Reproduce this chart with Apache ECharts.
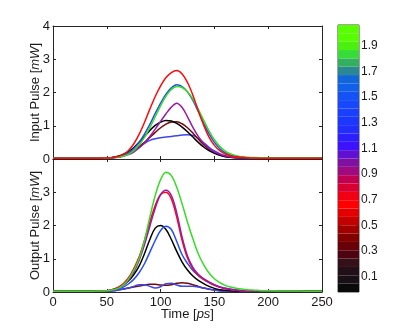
<!DOCTYPE html>
<html><head><meta charset="utf-8">
<script src="https://cdn.jsdelivr.net/npm/echarts@6/dist/echarts.min.js"></script>
<style>html,body{margin:0;padding:0;background:#fff}#c{width:415px;height:329px}</style>
</head><body><div id="c"></div>
<script>
// time axis (ps)
const timePs = [0,10,20,30,40,50,55,60,65,70,75,80,85,90,95,100,105,110,115,120,125,130,135,140,145,150,155,160,165,170,175,180,185,190,195,200,210,220,230,240,250];
const xTicks = [0,50,100,150,200,250];
const yTicks = [0,1,2,3,4];

// Input pulses (mW)
const inRed    = [0.02,0.02,0.02,0.02,0.02, 0.03,0.04,0.07,0.13,0.25,0.45,0.74,1.1,1.5,1.88,2.2,2.45,2.6,2.66,2.56,2.3,1.92,1.45,1.02,0.66,0.41,0.25,0.15,0.1,0.07,0.05,0.04,0.03,0.03,0.02,0.02, 0.02,0.02,0.02,0.02,0.02];
const inBlue   = [0.02,0.02,0.02,0.02,0.02, 0.03,0.04,0.06,0.1,0.18,0.31,0.5,0.75,1.04,1.37,1.68,1.95,2.14,2.23,2.18,2.02,1.76,1.43,1.08,0.76,0.5,0.31,0.19,0.12,0.08,0.06,0.04,0.03,0.03,0.02,0.02, 0.02,0.02,0.02,0.02,0.02];
const inGreen  = [0.025,0.025,0.025,0.025,0.025, 0.03,0.04,0.05,0.08,0.14,0.25,0.42,0.65,0.94,1.27,1.6,1.89,2.09,2.18,2.15,2.02,1.8,1.5,1.17,0.85,0.58,0.38,0.24,0.15,0.1,0.07,0.05,0.045,0.04,0.04,0.035, 0.03,0.03,0.03,0.03,0.03];
const inPurple = [0.02,0.02,0.02,0.02,0.02, 0.03,0.04,0.05,0.08,0.13,0.21,0.33,0.48,0.68,0.9,1.13,1.36,1.56,1.68,1.55,1.27,0.95,0.68,0.47,0.32,0.21,0.14,0.09,0.06,0.04,0.03,0.03,0.02,0.02,0.02,0.02, 0.02,0.02,0.02,0.02,0.02];
const inBlack  = [0.02,0.02,0.02,0.02,0.02, 0.03,0.05,0.08,0.14,0.22,0.34,0.5,0.68,0.86,1.01,1.11,1.16,1.14,1.07,0.96,0.82,0.66,0.5,0.36,0.25,0.17,0.11,0.07,0.05,0.04,0.03,0.03,0.02,0.02,0.02,0.02, 0.02,0.02,0.02,0.02,0.02];
const inDarkRed= [0.02,0.02,0.02,0.02,0.02, 0.03,0.04,0.06,0.1,0.16,0.25,0.37,0.5,0.65,0.8,0.94,1.05,1.11,1.12,1.06,0.94,0.78,0.6,0.43,0.29,0.19,0.12,0.08,0.05,0.04,0.03,0.03,0.02,0.02,0.02,0.02, 0.02,0.02,0.02,0.02,0.02];
const inBlueLow= [0.02,0.02,0.02,0.02,0.02, 0.03,0.04,0.06,0.1,0.16,0.25,0.36,0.47,0.56,0.61,0.64,0.66,0.68,0.7,0.72,0.73,0.71,0.62,0.49,0.35,0.24,0.16,0.1,0.07,0.05,0.04,0.03,0.03,0.02,0.02,0.02, 0.02,0.02,0.02,0.02,0.02];

// Output pulses (mW)
const outGreen  = [0.02,0.02,0.02,0.02,0.03, 0.04,0.06,0.1,0.2,0.38,0.65,1.0,1.55,2.25,2.9,3.38,3.6,3.5,3.15,2.65,2.1,1.6,1.15,0.82,0.57,0.4,0.28,0.2,0.15,0.11,0.09,0.07,0.06,0.05,0.04,0.04, 0.03,0.03,0.03,0.02,0.02];
const outPurple = [0.02,0.02,0.02,0.02,0.02, 0.03,0.05,0.1,0.19,0.35,0.6,0.95,1.42,1.98,2.52,2.93,3.06,2.9,2.38,1.65,1.08,0.74,0.53,0.4,0.3,0.22,0.15,0.11,0.08,0.06,0.04,0.03,0.03,0.02,0.02,0.02, 0.02,0.02,0.02,0.02,0.02];
const outRed    = [0.02,0.02,0.02,0.02,0.03, 0.04,0.07,0.13,0.24,0.42,0.7,1.05,1.55,2.1,2.6,2.93,3.0,2.8,2.25,1.55,1.02,0.7,0.5,0.38,0.28,0.2,0.14,0.1,0.07,0.05,0.04,0.03,0.03,0.02,0.02,0.02, 0.02,0.02,0.02,0.02,0.02];
const outBlack  = [0.02,0.02,0.02,0.02,0.03, 0.04,0.07,0.12,0.2,0.33,0.52,0.78,1.15,1.58,1.92,2.0,1.88,1.58,1.22,0.9,0.66,0.48,0.35,0.25,0.17,0.11,0.07,0.05,0.04,0.03,0.03,0.02,0.02,0.02,0.02,0.02, 0.02,0.02,0.02,0.02,0.02];
const outBlue   = [0.02,0.02,0.02,0.02,0.02, 0.03,0.05,0.08,0.14,0.24,0.38,0.58,0.85,1.2,1.55,1.85,1.98,1.88,1.52,1.12,0.86,0.65,0.5,0.38,0.29,0.21,0.15,0.11,0.08,0.06,0.04,0.03,0.03,0.02,0.02,0.02, 0.02,0.02,0.02,0.02,0.02];
const outDarkRed= [0.02,0.02,0.02,0.02,0.02, 0.03,0.04,0.06,0.09,0.12,0.15,0.18,0.21,0.23,0.23,0.21,0.2,0.22,0.26,0.28,0.26,0.22,0.17,0.12,0.08,0.06,0.04,0.03,0.02,0.02,0.02,0.02,0.02,0.02,0.02,0.02, 0.02,0.02,0.02,0.02,0.02];
const outBlueLow= [0.02,0.02,0.02,0.02,0.02, 0.02,0.03,0.05,0.08,0.12,0.17,0.22,0.22,0.17,0.12,0.16,0.25,0.26,0.21,0.17,0.17,0.17,0.15,0.12,0.09,0.06,0.04,0.03,0.02,0.02,0.02,0.02,0.02,0.02,0.02,0.02, 0.02,0.02,0.02,0.02,0.02];

// Colorbar
const cbTicks = [0.1,0.3,0.5,0.7,0.9,1.1,1.3,1.5,1.7,1.9];
const cbMin = -0.02, cbMax = 2.06;
const cbColors = ['#0a0a0a','#181014','#221018','#361018','#4e0410','#680008','#820000','#a00000','#c20000','#e20000',
  '#ff0000','#f00012','#d80030','#c00050','#a00a80','#8010a0','#6010d0','#3c12ff','#2c1eff','#222eff',
  '#1c38ff','#1a40ff','#1848fc','#1452f4','#1060ea','#1266dc','#2a8894','#32b060','#38dc38','#4cf010','#55ff00','#58ff00'];
const cbSegment = cbColors.map(() => 1);

const FONT = "'Liberation Sans', Arial, sans-serif";
const TXT = '#1a1a1a';
const LINE = '#262626';

function pairs(arr){ return timePs.map((t,i)=>[t,arr[i]]); }

const lineCommon = { type:'line', showSymbol:false, smooth:0.35, animation:false, lineStyle:{width:1.5} };

function mk(arr, color, xi, yi, z){
  return Object.assign({}, lineCommon, {data:pairs(arr), xAxisIndex:xi, yAxisIndex:yi, color:color, lineStyle:{width:1.5, color:color}, z:z});
}

const tickStyle = {show:true, inside:true, length:3, lineStyle:{color:LINE}};
function xAx(gi, pos, labels, extra){
  return Object.assign({type:'value', gridIndex:gi, position:pos, min:0, max:250, interval:50,
    axisLine:{show:true, onZero:false, lineStyle:{color:LINE, width:1}}, axisTick:tickStyle,
    axisLabel:{show:labels, color:TXT, fontSize:13, fontFamily:FONT, margin:4}, splitLine:{show:false}}, extra||{});
}
function yAx(gi, pos, labels, extra){
  return Object.assign({type:'value', gridIndex:gi, position:pos, min:0, max:4, interval:1,
    axisLine:{show:true, onZero:false, lineStyle:{color:LINE, width:1}}, axisTick:tickStyle,
    axisLabel:{show:labels, color:TXT, fontSize:13, fontFamily:FONT, margin:3}, splitLine:{show:false}}, extra||{});
}
const rich = {n:{fontSize:13, fontFamily:FONT, color:TXT}, i:{fontSize:13, fontFamily:FONT, color:TXT, fontStyle:'italic'}};

const series = [
  mk(inBlueLow, '#3a46f2', 0, 0, 2),
  mk(inDarkRed, '#780808', 0, 0, 2),
  mk(inBlack, '#000000', 0, 0, 2),
  mk(inPurple, '#9c18a8', 0, 0, 2),
  mk(inBlue, '#2250f5', 0, 0, 2),
  mk(inGreen, '#33dd22', 0, 0, 2),
  mk(inRed, '#ff0a0a', 0, 0, 2),
  mk(outDarkRed, '#780808', 2, 2, 2),
  mk(outBlueLow, '#3a46f2', 2, 2, 2),
  mk(outBlack, '#000000', 2, 2, 2),
  mk(outBlue, '#2250f5', 2, 2, 2),
  mk(outRed, '#ff0a0a', 2, 2, 2),
  mk(outPurple, '#9c18a8', 2, 2, 2),
  mk(outGreen, '#33dd22', 2, 2, 2)
];
cbColors.forEach((c,i)=>{
  series.push({type:'bar', xAxisIndex:4, yAxisIndex:4, stack:'cb', data:[cbSegment[i]], barWidth:'100%',
    itemStyle:{color:c}, animation:false, silent:true});
});

const option = {
  animation:false,
  backgroundColor:'#ffffff',
  grid:[
    {left:53, top:26, width:269, height:133},
    {left:53, top:159, width:269, height:133},
    {left:338, top:25, width:21, height:267, show:true, borderColor:'#444', borderWidth:1, backgroundColor:'transparent'}
  ],
  xAxis:[
    xAx(0,'bottom',false),
    xAx(0,'top',false),
    xAx(1,'bottom',true,{name:'{n|Time [}{i|ps}{n|]}', nameLocation:'middle', nameGap:16, nameMoveOverlap:false, nameTextStyle:{rich:rich, fontSize:13, fontFamily:FONT, color:TXT}}),
    xAx(1,'top',false),
    {type:'category', gridIndex:2, data:['c'], show:false, boundaryGap:true}
  ],
  yAxis:[
    yAx(0,'left',true,{name:'{n|Input Pulse [}{i|mW}{n|]}', nameLocation:'middle', nameGap:11, nameMoveOverlap:false, nameTextStyle:{rich:rich, fontSize:13, fontFamily:FONT, color:TXT}}),
    yAx(0,'right',false),
    yAx(1,'left',true,{name:'{n|Output Pulse [}{i|mW}{n|]}', nameLocation:'middle', nameGap:11, nameMoveOverlap:false, nameTextStyle:{rich:rich, fontSize:13, fontFamily:FONT, color:TXT},
      axisLabel:{show:true, color:TXT, fontSize:13, fontFamily:FONT, margin:3, formatter:v=> v===4 ? '' : String(v)}}),
    yAx(1,'right',false),
    {type:'value', gridIndex:2, min:0, max:cbSegment.length, show:false},
    {type:'value', gridIndex:2, position:'right', min:cbMin, max:cbMax,
      axisLine:{show:false}, splitLine:{show:false},
      axisTick:{show:true, inside:true, length:3, lineStyle:{color:'#555'}, customValues:cbTicks},
      axisLabel:{show:true, color:TXT, fontSize:12, fontFamily:FONT, margin:2, customValues:cbTicks, formatter:v=>v.toFixed(1)}},
    {type:'value', gridIndex:2, position:'left', min:cbMin, max:cbMax,
      axisLine:{show:false}, splitLine:{show:false},
      axisTick:{show:true, inside:true, length:3, lineStyle:{color:'#555'}, customValues:cbTicks},
      axisLabel:{show:false}}
  ],
  series:series
};
const chart = echarts.init(document.getElementById('c'), null, {renderer:'canvas'});
chart.setOption(option);
</script></body></html>
